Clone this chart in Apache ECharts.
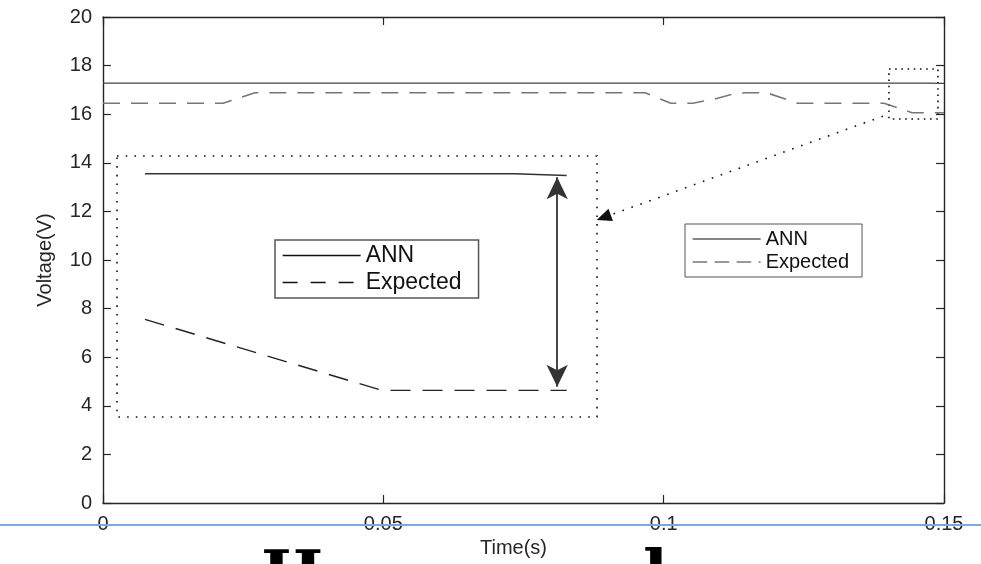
<!DOCTYPE html>
<html>
<head>
<meta charset="utf-8">
<script src="https://cdn.jsdelivr.net/npm/echarts@6/dist/echarts.min.js"></script>
<style>html,body{margin:0;padding:0;background:#fff;}#chart{width:981px;height:564px;}</style>
</head>
<body>
<div id="chart"></div>
<script>
// Main axes ticks
const xTicks = [0, 0.05, 0.1, 0.15];
const yTicks = [0, 2, 4, 6, 8, 10, 12, 14, 16, 18, 20];

// Main series (time in s, voltage in V)
const annTime = [0, 0.1471, 0.15];
const annVolt = [17.28, 17.28, 17.27];
const expTime = [0, 0.0214, 0.0271, 0.0967, 0.1013, 0.1052, 0.1090, 0.1127, 0.1145, 0.1184, 0.1239, 0.1393, 0.1443, 0.15];
const expVolt = [16.45, 16.45, 16.88, 16.88, 16.45, 16.45, 16.62, 16.85, 16.88, 16.88, 16.45, 16.45, 16.06, 16.06];

// Zoomed region shown in the inset
const zoomTime = [0.14018, 0.14892];
const zoomVolt = [15.80, 17.86];
const insetTimeRange = [0.13871, 0.14884];
const insetVoltRange = [15.91, 17.38];
const insetAnnTime = [0.1393, 0.1471, 0.1482];
const insetAnnVolt = [17.28, 17.28, 17.27];
const insetExpTime = [0.1393, 0.1443, 0.1482];
const insetExpVolt = [16.46, 16.06, 16.06];
// double arrow (difference) and pointer arrow
const diffTime = 0.1480;
const diffVolt = [17.26, 16.08];
const pointerFrom = [0.13911, 15.92];
const pointerTo = [0.0893, 11.75];

const legendNames = ['ANN', 'Expected'];

const pair = (xs, ys) => xs.map((x, i) => [x, ys[i]]);
const font = '"Liberation Sans", Arial, sans-serif';
const axisColor = '#262626';

const chart = echarts.init(document.getElementById('chart'));
const option = {
  animation: false,
  backgroundColor: '#fff',
  grid: [
    { left: 103, right: 37, top: 17, bottom: 61, show: false },
    { left: 117, top: 156, width: 480, height: 261, show: false }
  ],
  xAxis: [
    {
      type: 'value', gridIndex: 0, min: xTicks[0], max: xTicks[xTicks.length - 1], interval: 0.05,
      position: 'bottom',
      name: 'Time(s)', nameLocation: 'middle', nameGap: 29,
      nameTextStyle: { fontFamily: font, fontSize: 20, color: axisColor, padding: [0, 20, 0, 0] },
      axisLine: { show: true, lineStyle: { color: axisColor, width: 1.4 } },
      axisTick: { show: true, inside: true, length: 8, lineStyle: { color: axisColor, width: 1.2 } },
      axisLabel: { fontFamily: font, fontSize: 20, color: axisColor, margin: 11 },
      splitLine: { show: false }
    },
    {
      type: 'value', gridIndex: 0, min: xTicks[0], max: xTicks[xTicks.length - 1], interval: 0.05,
      position: 'top',
      axisLine: { show: true, onZero: false, lineStyle: { color: axisColor, width: 1.4 } },
      axisTick: { show: true, inside: true, length: 8, lineStyle: { color: axisColor, width: 1.2 } },
      axisLabel: { show: false }, splitLine: { show: false }
    },
    {
      type: 'value', gridIndex: 1, min: insetTimeRange[0], max: insetTimeRange[1], show: false
    }
  ],
  yAxis: [
    {
      type: 'value', gridIndex: 0, min: yTicks[0], max: yTicks[yTicks.length - 1], interval: 2,
      position: 'left',
      name: 'Voltage(V)', nameLocation: 'middle', nameGap: 48,
      nameTextStyle: { fontFamily: font, fontSize: 20, color: axisColor },
      axisLine: { show: true, lineStyle: { color: axisColor, width: 1.4 } },
      axisTick: { show: true, inside: true, length: 8, lineStyle: { color: axisColor, width: 1.2 } },
      axisLabel: { fontFamily: font, fontSize: 20, color: axisColor, margin: 11 },
      splitLine: { show: false }
    },
    {
      type: 'value', gridIndex: 0, min: yTicks[0], max: yTicks[yTicks.length - 1], interval: 2,
      position: 'right',
      axisLine: { show: true, onZero: false, lineStyle: { color: axisColor, width: 1.4 } },
      axisTick: { show: true, inside: true, length: 8, lineStyle: { color: axisColor, width: 1.2 } },
      axisLabel: { show: false }, splitLine: { show: false }
    },
    {
      type: 'value', gridIndex: 1, min: insetVoltRange[0], max: insetVoltRange[1], show: false
    }
  ],
  legend: [
    {
      left: 685, top: 224, orient: 'vertical', selectedMode: false,
      itemWidth: 68, itemHeight: 14, itemGap: 3,
      padding: [5, 13, 5, 7],
      borderColor: '#555', borderWidth: 1,
      textStyle: { fontFamily: font, fontSize: 20, color: '#111' },
      data: [
        { name: legendNames[0], itemStyle: { opacity: 0 }, lineStyle: { color: '#111', width: 1.2, type: 'solid' } },
        { name: legendNames[1], itemStyle: { opacity: 0 }, lineStyle: { color: '#777', width: 1.3, type: [14.5, 7.5] } }
      ]
    },
    {
      left: 275, top: 240, orient: 'vertical', selectedMode: false,
      itemWidth: 78, itemHeight: 16, itemGap: 4,
      padding: [4, 17, 4, 7],
      borderColor: '#555', borderWidth: 1.5,
      textStyle: { fontFamily: font, fontSize: 23, color: '#111' },
      data: [
        { name: legendNames[0], itemStyle: { opacity: 0 }, lineStyle: { color: '#111', width: 1.3, type: 'solid' } },
        { name: legendNames[1], itemStyle: { opacity: 0 }, lineStyle: { color: '#111', width: 1.3, type: [15, 13] } }
      ]
    }
  ],
  series: [
    {
      name: legendNames[0], type: 'line', xAxisIndex: 0, yAxisIndex: 0,
      data: pair(annTime, annVolt), symbol: 'none', showSymbol: false, clip: false,
      itemStyle: { color: '#444' },
      lineStyle: { color: '#444', width: 1.4 },
      markArea: {
        silent: true,
        itemStyle: { color: 'rgba(0,0,0,0)', borderColor: '#111', borderWidth: 1.6, borderType: [1.6, 4.6] },
        data: [[{ coord: [zoomTime[0], zoomVolt[1]] }, { coord: [zoomTime[1], zoomVolt[0]] }]]
      }
    },
    {
      name: legendNames[1], type: 'line', xAxisIndex: 0, yAxisIndex: 0,
      data: pair(expTime, expVolt), symbol: 'none', showSymbol: false, clip: false,
      itemStyle: { color: '#777' },
      lineStyle: { color: '#777', width: 1.6, type: [17, 11] },
      markLine: {
        silent: true, animation: false,
        symbol: ['none', 'triangle'], symbolSize: [13, 15],
        label: { show: false },
        itemStyle: { color: '#000' },
        lineStyle: { color: '#111', width: 1.6, type: [1.6, 7.9] },
        data: [[{ coord: pointerFrom }, { coord: pointerTo }]]
      }
    },
    {
      name: legendNames[0], type: 'line', xAxisIndex: 2, yAxisIndex: 2,
      data: pair(insetAnnTime, insetAnnVolt), symbol: 'none', showSymbol: false, clip: false,
      itemStyle: { color: '#333' },
      lineStyle: { color: '#333', width: 1.5 },
      markArea: {
        silent: true,
        itemStyle: { color: 'rgba(0,0,0,0)', borderColor: '#111', borderWidth: 1.6, borderType: [1.6, 7.1] },
        data: [[{ coord: [insetTimeRange[0], insetVoltRange[1]] }, { coord: [insetTimeRange[1], insetVoltRange[0]] }]]
      }
    },
    {
      name: legendNames[1], type: 'line', xAxisIndex: 2, yAxisIndex: 2,
      data: pair(insetExpTime, insetExpVolt), symbol: 'none', showSymbol: false, clip: false,
      itemStyle: { color: '#222' },
      lineStyle: { color: '#222', width: 1.4, type: [20, 12] },
      markLine: {
        silent: true, animation: false,
        symbol: ['arrow', 'arrow'], symbolSize: [16, 22],
        label: { show: false },
        lineStyle: { color: '#333', width: 1.8, type: 'solid' },
        itemStyle: { color: '#000' },
        data: [[{ coord: [diffTime, diffVolt[0]] }, { coord: [diffTime, diffVolt[1]] }]]
      }
    }
  ],
  graphic: [
    { type: 'line', z: 100, shape: { x1: 0, y1: 525, x2: 981, y2: 525 }, style: { stroke: '#79a9dc', lineWidth: 2 } },
    { type: 'text', z: 100, x: 261, y: 547, style: { text: 'H', font: 'bold 66px "DejaVu Serif"', fill: '#000' } },
    { type: 'text', z: 100, x: 643, y: 547, style: { text: 'l', font: 'bold 66px "DejaVu Serif"', fill: '#000' } }
  ]
};
chart.setOption(option);
</script>
</body>
</html>
